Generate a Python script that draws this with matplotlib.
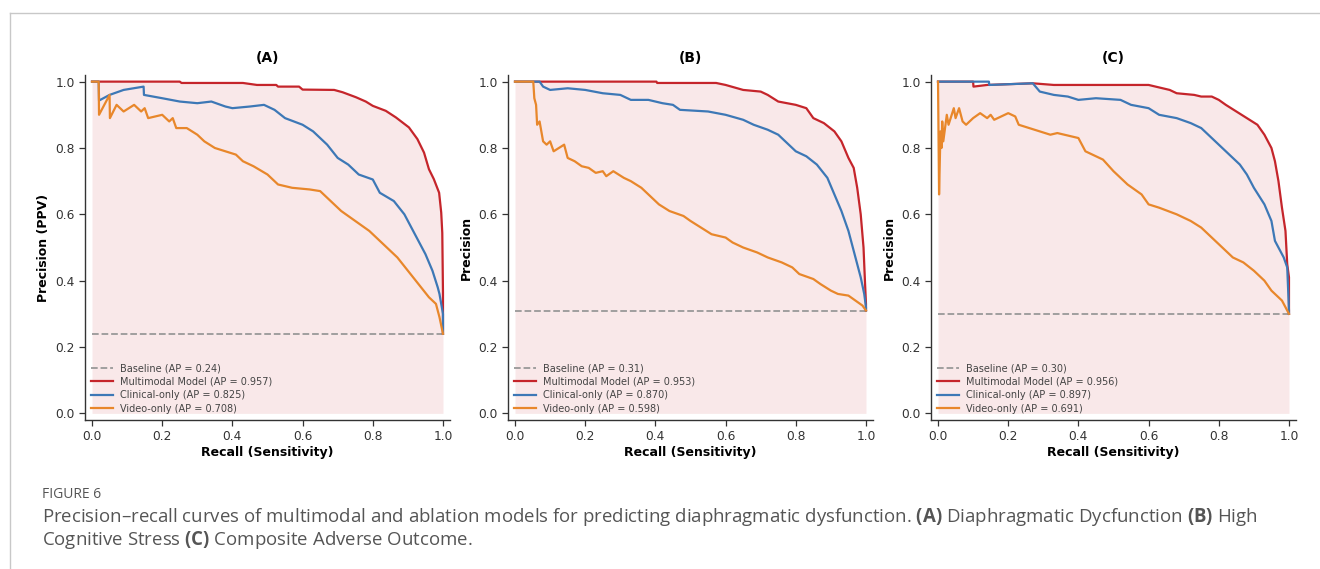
import matplotlib.pyplot as plt
from matplotlib.lines import Line2D

# ---- panel (A): diaphragmatic dysfunction ----
a_multi_r = [0.0, 0.25, 0.255, 0.43, 0.47, 0.525, 0.53, 0.59, 0.6, 0.69, 0.714, 0.752, 0.78, 0.80,
             0.837, 0.866, 0.903, 0.927, 0.946, 0.96, 0.974, 0.989, 0.995, 0.998, 1.0, 1.0]
a_multi_p = [1.0, 1.0, 0.996, 0.996, 0.99, 0.99, 0.985, 0.985, 0.976, 0.975, 0.968, 0.953, 0.94, 0.927,
             0.912, 0.892, 0.862, 0.827, 0.786, 0.736, 0.706, 0.665, 0.605, 0.544, 0.363, 0.24]
a_clin_r = [0.0, 0.019, 0.02, 0.05, 0.09, 0.147, 0.148, 0.2, 0.25, 0.3, 0.34, 0.38, 0.4, 0.45, 0.49,
            0.52, 0.55, 0.6, 0.63, 0.67, 0.7, 0.73, 0.76, 0.8, 0.82, 0.86, 0.89, 0.91, 0.93, 0.95,
            0.97, 0.985, 0.99, 1.0, 1.0]
a_clin_p = [1.0, 1.0, 0.943, 0.96, 0.975, 0.985, 0.96, 0.95, 0.94, 0.935, 0.94, 0.925, 0.92, 0.925, 0.93,
            0.915, 0.89, 0.87, 0.85, 0.81, 0.77, 0.75, 0.72, 0.705, 0.665, 0.64, 0.6, 0.56, 0.52, 0.48,
            0.43, 0.38, 0.36, 0.30, 0.24]
a_vid_r = [0.0, 0.019, 0.02, 0.05, 0.051, 0.07, 0.09, 0.12, 0.14, 0.15, 0.16, 0.2, 0.22, 0.23, 0.24,
           0.27, 0.3, 0.32, 0.35, 0.38, 0.41, 0.43, 0.46, 0.5, 0.53, 0.57, 0.62, 0.65, 0.68, 0.71,
           0.75, 0.79, 0.83, 0.87, 0.9, 0.93, 0.96, 0.98, 0.99, 1.0]
a_vid_p = [1.0, 1.0, 0.90, 0.96, 0.89, 0.93, 0.91, 0.93, 0.91, 0.92, 0.89, 0.90, 0.88, 0.89, 0.86,
           0.86, 0.84, 0.82, 0.80, 0.79, 0.78, 0.76, 0.745, 0.72, 0.69, 0.68, 0.675, 0.67, 0.64, 0.61,
           0.58, 0.55, 0.51, 0.47, 0.43, 0.39, 0.35, 0.33, 0.29, 0.24]

# ---- panel (B): high cognitive stress ----
b_multi_r = [0.0, 0.403, 0.405, 0.573, 0.6, 0.65, 0.7, 0.72, 0.75, 0.8, 0.83, 0.85, 0.88, 0.91, 0.93,
             0.95, 0.965, 0.975, 0.985, 0.993, 0.997, 1.0, 1.0]
b_multi_p = [1.0, 1.0, 0.996, 0.996, 0.99, 0.975, 0.97, 0.96, 0.94, 0.93, 0.92, 0.89, 0.875, 0.85, 0.82,
             0.77, 0.74, 0.68, 0.60, 0.50, 0.40, 0.33, 0.31]
b_clin_r = [0.0, 0.07, 0.08, 0.1, 0.15, 0.2, 0.25, 0.3, 0.33, 0.38, 0.42, 0.45, 0.47, 0.55, 0.6, 0.65,
            0.68, 0.72, 0.75, 0.78, 0.8, 0.83, 0.86, 0.89, 0.91, 0.93, 0.95, 0.97, 0.985, 0.995, 1.0, 1.0]
b_clin_p = [1.0, 1.0, 0.985, 0.975, 0.98, 0.975, 0.965, 0.96, 0.945, 0.945, 0.935, 0.93, 0.915, 0.91,
            0.90, 0.885, 0.87, 0.855, 0.84, 0.81, 0.79, 0.775, 0.75, 0.71, 0.66, 0.61, 0.55, 0.47, 0.41,
            0.36, 0.32, 0.31]
b_vid_r = [0.0, 0.052, 0.055, 0.06, 0.063, 0.07, 0.08, 0.09, 0.1, 0.11, 0.14, 0.15, 0.17, 0.19, 0.21,
           0.23, 0.25, 0.26, 0.28, 0.31, 0.33, 0.36, 0.38, 0.41, 0.44, 0.48, 0.5, 0.53, 0.56, 0.6,
           0.62, 0.65, 0.69, 0.72, 0.76, 0.79, 0.81, 0.85, 0.87, 0.9, 0.92, 0.95, 0.97, 0.99, 1.0]
b_vid_p = [1.0, 1.0, 0.95, 0.93, 0.87, 0.88, 0.82, 0.81, 0.82, 0.79, 0.81, 0.77, 0.76, 0.745, 0.74,
           0.725, 0.73, 0.715, 0.73, 0.71, 0.70, 0.68, 0.66, 0.63, 0.61, 0.595, 0.58, 0.56, 0.54, 0.53,
           0.515, 0.50, 0.485, 0.47, 0.455, 0.44, 0.42, 0.405, 0.39, 0.37, 0.36, 0.355, 0.34, 0.325, 0.31]

# ---- panel (C): composite adverse outcome ----
c_multi_r = [0.0, 0.1, 0.101, 0.14, 0.27, 0.33, 0.6, 0.62, 0.66, 0.68, 0.73, 0.75, 0.78, 0.8, 0.82,
             0.85, 0.88, 0.91, 0.93, 0.95, 0.96, 0.97, 0.98, 0.99, 0.995, 1.0, 1.0]
c_multi_p = [1.0, 1.0, 0.985, 0.99, 0.995, 0.99, 0.99, 0.985, 0.975, 0.965, 0.96, 0.955, 0.955, 0.945, 0.93,
             0.91, 0.89, 0.87, 0.84, 0.80, 0.76, 0.70, 0.62, 0.55, 0.45, 0.41, 0.30]
c_clin_r = [0.0, 0.145, 0.146, 0.27, 0.29, 0.33, 0.37, 0.4, 0.45, 0.52, 0.55, 0.6, 0.63, 0.68, 0.72,
            0.75, 0.78, 0.8, 0.83, 0.86, 0.88, 0.9, 0.93, 0.95, 0.96, 0.985, 0.995, 1.0, 1.0]
c_clin_p = [1.0, 1.0, 0.99, 0.995, 0.97, 0.96, 0.955, 0.945, 0.95, 0.945, 0.93, 0.92, 0.90, 0.89, 0.875,
            0.86, 0.83, 0.81, 0.78, 0.75, 0.72, 0.68, 0.63, 0.58, 0.52, 0.47, 0.44, 0.31, 0.30]
c_vid_r = [0.0, 0.003, 0.007, 0.01, 0.012, 0.015, 0.025, 0.03, 0.045, 0.05, 0.06, 0.07, 0.08, 0.1,
           0.12, 0.14, 0.15, 0.16, 0.19, 0.2, 0.22, 0.23, 0.26, 0.29, 0.32, 0.34, 0.38, 0.4, 0.42,
           0.47, 0.5, 0.54, 0.58, 0.6, 0.63, 0.68, 0.72, 0.75, 0.78, 0.81, 0.84, 0.87, 0.9, 0.93,
           0.95, 0.98, 0.995, 1.0]
c_vid_p = [1.0, 0.66, 0.85, 0.80, 0.88, 0.82, 0.90, 0.87, 0.92, 0.89, 0.92, 0.88, 0.87, 0.89,
           0.905, 0.89, 0.90, 0.885, 0.90, 0.905, 0.895, 0.87, 0.86, 0.85, 0.84, 0.845, 0.835, 0.83, 0.79,
           0.765, 0.73, 0.69, 0.66, 0.63, 0.62, 0.60, 0.58, 0.56, 0.53, 0.50, 0.47, 0.455, 0.43, 0.40,
           0.37, 0.34, 0.31, 0.30]

titles = ["(A)", "(B)", "(C)"]
ylabels = ["Precision (PPV)", "Precision", "Precision"]
baselines = [0.24, 0.31, 0.30]
ap_multi = [0.957, 0.953, 0.956]
ap_clin = [0.825, 0.870, 0.897]
ap_vid = [0.708, 0.598, 0.691]

panels = [
    (a_multi_r, a_multi_p, a_clin_r, a_clin_p, a_vid_r, a_vid_p),
    (b_multi_r, b_multi_p, b_clin_r, b_clin_p, b_vid_r, b_vid_p),
    (c_multi_r, c_multi_p, c_clin_r, c_clin_p, c_vid_r, c_vid_p),
]

RED = "#c5252b"
BLUE = "#3d78b6"
ORANGE = "#e8872b"
GRAY = "#999999"

plt.rcParams["font.family"] = "DejaVu Sans"
plt.rcParams["mathtext.fontset"] = "custom"
plt.rcParams["mathtext.bf"] = "Open Sans:bold"
plt.rcParams["mathtext.rm"] = "Open Sans"

fig = plt.figure(figsize=(13.2, 5.69), dpi=100)

# page frame lines (screenshot border)
fig.add_artist(Line2D([10 / 1320, 1.0], [1 - 13 / 569, 1 - 13 / 569], color="#c8c8c8", lw=1))
fig.add_artist(Line2D([10 / 1320, 10 / 1320], [0.0, 1 - 13 / 569], color="#c8c8c8", lw=1))

lefts = [85 / 1320, 508 / 1320, 931 / 1320]
for i, (mr, mp, cr, cp, vr, vp) in enumerate(panels):
    ax = fig.add_axes([lefts[i], 149 / 569, 365 / 1320, 345 / 569])
    ax.fill_between(mr, mp, 0, color=RED, alpha=0.1, lw=0)
    ax.plot([0, 1], [baselines[i], baselines[i]], ls="--", color=GRAY, lw=1.3,
            label=f"Baseline (AP = {baselines[i]:.2f})")
    ax.plot(mr, mp, color=RED, lw=1.6, label=f"Multimodal Model (AP = {ap_multi[i]:.3f})")
    ax.plot(cr, cp, color=BLUE, lw=1.6, label=f"Clinical-only (AP = {ap_clin[i]:.3f})")
    ax.plot(vr, vp, color=ORANGE, lw=1.6, label=f"Video-only (AP = {ap_vid[i]:.3f})")
    ax.set_xlim(-0.02, 1.02)
    ax.set_ylim(-0.02, 1.02)
    ax.set_xticks([0.0, 0.2, 0.4, 0.6, 0.8, 1.0])
    ax.set_yticks([0.0, 0.2, 0.4, 0.6, 0.8, 1.0])
    ax.tick_params(labelsize=8.8, colors="#333333", length=4, width=0.9)
    for s in ["top", "right"]:
        ax.spines[s].set_visible(False)
    for s in ["left", "bottom"]:
        ax.spines[s].set_color("#333333")
        ax.spines[s].set_linewidth(1.0)
    ax.set_title(titles[i], fontsize=10, fontweight="bold", pad=9)
    ax.set_xlabel("Recall (Sensitivity)", fontsize=9, fontweight="bold", labelpad=2)
    ax.set_ylabel(ylabels[i], fontsize=9, fontweight="bold")
    leg = ax.legend(loc="lower left", fontsize=7, frameon=False, handlelength=2.2,
                    borderaxespad=0.25, labelspacing=0.35)
    for t in leg.get_texts():
        t.set_color("#444444")

fig.text(42 / 1320, 1 - 495 / 569, "FIGURE 6", fontsize=10, color="#555555",
         family="Open Sans", va="center")
fig.text(42 / 1320, 1 - 517 / 569,
         "Precision\u2013recall curves of multimodal and ablation models for predicting diaphragmatic "
         "dysfunction. $\\mathbf{(A)}$ Diaphragmatic Dycfunction $\\mathbf{(B)}$ High",
         fontsize=13.4, color="#555555", family="Open Sans", va="center")
fig.text(42 / 1320, 1 - 540 / 569,
         "Cognitive Stress $\\mathbf{(C)}$ Composite Adverse Outcome.",
         fontsize=13.4, color="#555555", family="Open Sans", va="center")

fig.savefig("out.png", dpi=100)
